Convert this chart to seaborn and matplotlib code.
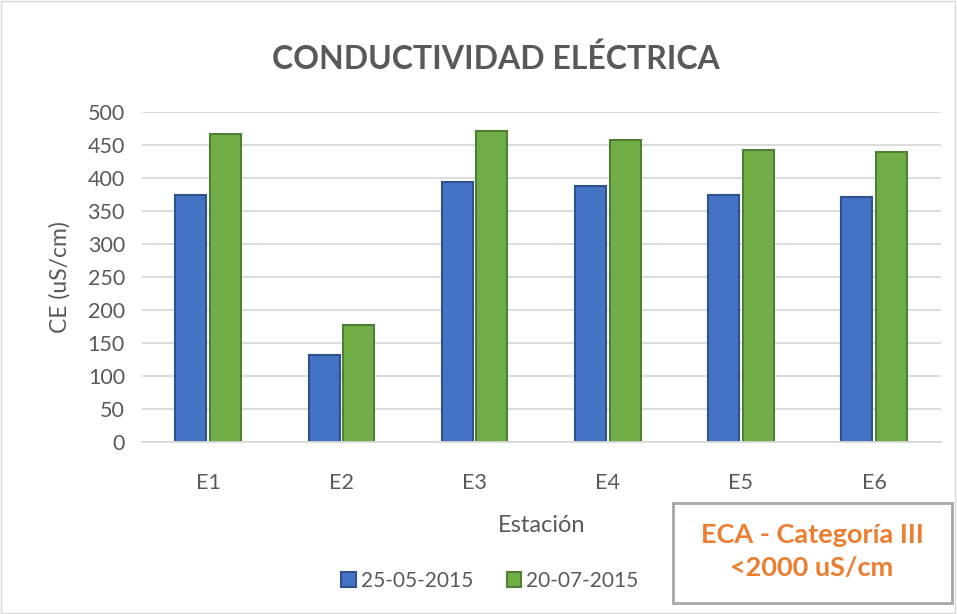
import matplotlib
matplotlib.use("Agg")
import matplotlib.pyplot as plt
import seaborn as sns
import pandas as pd
from matplotlib.patches import Rectangle, Patch

stations = ["E1", "E2", "E3", "E4", "E5", "E6"]
series_names = ["25-05-2015", "20-07-2015"]
values_may = [374, 132, 394, 388, 374, 371]
values_jul = [466, 178, 471, 457, 442, 439]
yticks = [0, 50, 100, 150, 200, 250, 300, 350, 400, 450, 500]

df = pd.DataFrame({
    "Estación": stations * 2,
    "CE": values_may + values_jul,
    "Fecha": [series_names[0]] * len(stations) + [series_names[1]] * len(stations),
})

sns.set_style("white")
plt.rcParams['font.family'] = ['Lato', 'DejaVu Sans']

fig = plt.figure(figsize=(9.57, 6.14), dpi=100)
ax = fig.add_axes([0.148, 0.280, 0.835, 0.5376])

palette = {series_names[0]: "#4472C4", series_names[1]: "#70AD47"}
edges = ["#2F528F", "#507E32"]
sns.barplot(data=df, x="Estación", y="CE", hue="Fecha", palette=palette,
            width=0.52, gap=0.1, ax=ax, legend=False, saturation=1)
for i, cont in enumerate(ax.containers):
    for p in cont.patches:
        p.set_edgecolor(edges[i])
        p.set_linewidth(1.5)

ax.set_ylim(0, 500)
ax.set_yticks(yticks)
ax.set_xlim(-0.5, 5.5)
ax.grid(axis="y", color="#d9d9d9", linewidth=1.3)
ax.set_axisbelow(True)
for s in ["top", "right", "left"]:
    ax.spines[s].set_visible(False)
ax.spines["bottom"].set_color("#d9d9d9")
ax.spines["bottom"].set_linewidth(1.3)
ax.tick_params(axis="both", length=0, labelsize=15.5, colors="#595959")
ax.tick_params(axis="x", pad=22)
ax.tick_params(axis="y", pad=12)
ax.set_xlabel("Estación", fontsize=17, color="#595959", labelpad=16)
ax.set_ylabel("CE (uS/cm)", fontsize=16.5, color="#595959", labelpad=12)

fig.text(0.518, 0.905, "CONDUCTIVIDAD ELÉCTRICA", ha="center", va="center",
         fontsize=23, fontweight="bold", color="#595959")

handles = [Patch(facecolor=palette[n], edgecolor=e, linewidth=1.5) for n, e in zip(series_names, edges)]
fig.legend(handles, series_names, loc="center", bbox_to_anchor=(0.512, 0.054), ncol=2,
           frameon=False, fontsize=15, labelcolor="#595959", handlelength=0.7,
           handleheight=0.7, handletextpad=0.25, columnspacing=1.6)

box = Rectangle((673 / 957, 1 - 603 / 614), (952 - 673) / 957, (603 - 503) / 614,
                transform=fig.transFigure, fill=False, edgecolor="#a6a6a6", linewidth=2)
fig.patches.append(box)
fig.text(812 / 957, 1 - 535 / 614, "ECA - Categoría III", ha="center", va="center",
         fontsize=19.5, fontweight="bold", color="#ED7D31")
fig.text(812 / 957, 1 - 568 / 614, "<2000 uS/cm", ha="center", va="center",
         fontsize=19.5, fontweight="bold", color="#ED7D31")

border = Rectangle((0.001, 0.001), 0.997, 0.997, transform=fig.transFigure, fill=False,
                   edgecolor="#d9d9d9", linewidth=1)
fig.patches.append(border)

fig.savefig("out.png", dpi=100)
